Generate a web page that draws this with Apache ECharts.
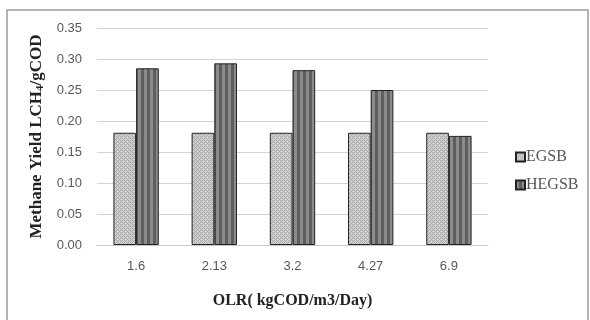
<!DOCTYPE html>
<html><head><meta charset="utf-8">
<script src="https://cdn.jsdelivr.net/npm/echarts@6/dist/echarts.min.js"></script>
<style>html,body{margin:0;padding:0;background:#fff}#c{width:590px;height:320px}</style>
</head><body><div id="c"></div>
<script>
const categories = ['1.6', '2.13', '3.2', '4.27', '6.9'];
const egsb = [0.181, 0.181, 0.181, 0.181, 0.181];
const hegsb = [0.285, 0.293, 0.282, 0.250, 0.176];
const seriesNames = ['EGSB', 'HEGSB'];

function hatch() {
  const c = document.createElement('canvas'); c.width = 4; c.height = 4;
  const g = c.getContext('2d');
  g.fillStyle = '#cfcfcf'; g.fillRect(0,0,4,4);
  g.fillStyle = '#a9a9a9';
  g.fillRect(0,0,1,1); g.fillRect(1,1,1,1); g.fillRect(2,2,1,1); g.fillRect(3,3,1,1);
  g.fillRect(2,0,1,1); g.fillRect(0,2,1,1);
  return c;
}
function stripes() {
  const c = document.createElement('canvas'); c.width = 6; c.height = 4;
  const g = c.getContext('2d');
  g.fillStyle = '#8c8c8c'; g.fillRect(0,0,6,4);
  g.fillStyle = '#5e5e5e'; g.fillRect(3,0,3,4);
  return c;
}
const chart = echarts.init(document.getElementById('c'));
chart.setOption({
  animation: false,
  graphic: [{type:'rect', shape:{x:7, y:10, width:581, height:320}, style:{fill:'none', stroke:'#9a9a9a', lineWidth:1.5}, silent:true}],
  grid: {left: 97, right: 102, top: 28, bottom: 75},
  legend: {
    orient: 'vertical', left: 510, top: 144, itemGap: 12,
    icon: 'rect', itemWidth: 9, itemHeight: 9,
    textStyle: {fontFamily: 'Liberation Serif', fontSize: 16, color: '#555', padding: [0,0,0,-4]},
    data: seriesNames
  },
  xAxis: {
    type: 'category', data: categories,
    axisLine: {lineStyle: {color: '#c8c8c8'}}, axisTick: {show: false},
    axisLabel: {color: '#595959', fontSize: 13, fontFamily: 'Liberation Sans', margin: 15},
    name: 'OLR( kgCOD/m3/Day)', nameLocation: 'middle', nameGap: 48,
    nameTextStyle: {fontFamily: 'Liberation Serif', fontWeight: 'bold', fontSize: 16, color: '#222'}
  },
  yAxis: {
    type: 'value', min: 0, max: 0.35, interval: 0.05,
    axisLine: {show: false}, axisTick: {show: false},
    splitLine: {lineStyle: {color: '#d3d3d3'}},
    axisLabel: {color: '#595959', fontSize: 13, fontFamily: 'Liberation Sans', margin: 15, formatter: v => v.toFixed(2)},
    name: 'Methane Yield LCH{s|4}/gCOD', nameLocation: 'middle', nameGap: 49,
    nameTextStyle: {fontFamily: 'Liberation Serif', fontWeight: 'bold', fontSize: 17, color: '#222',
      rich: {s: {fontFamily: 'Liberation Serif', fontWeight: 'bold', fontSize: 11, color: '#222', verticalAlign: 'bottom', padding: [8,0,0,0]}}}
  },
  series: [
    {name: seriesNames[0], type: 'bar', data: egsb, barGap: '0%', barCategoryGap: '42%',
     itemStyle: {color: {image: hatch(), repeat: 'repeat'}, borderColor: '#222', borderWidth: 1}},
    {name: seriesNames[1], type: 'bar', data: hegsb,
     itemStyle: {color: {image: stripes(), repeat: 'repeat'}, borderColor: '#222', borderWidth: 1}}
  ]
});
</script></body></html>
